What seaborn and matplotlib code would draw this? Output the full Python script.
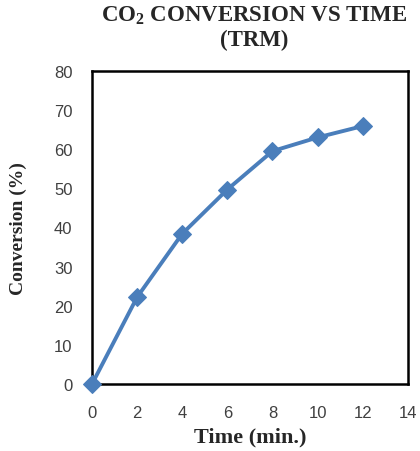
import pandas as pd
import numpy as np
import matplotlib
matplotlib.use('Agg')
import matplotlib.pyplot as plt
import seaborn as sn

time_min = [0, 2, 4, 6, 8, 10, 12]
conversion = [0, 22.2, 38.4, 49.7, 59.5, 63.0, 65.9]
x_ticks = [0, 2, 4, 6, 8, 10, 12, 14]
y_ticks = [0, 10, 20, 30, 40, 50, 60, 70, 80]

df = pd.DataFrame({'Time': time_min, 'Conversion': conversion})

sn.set_style('white')
plt.rcParams['font.family'] = ['Liberation Sans', 'DejaVu Sans']
plt.rcParams['mathtext.fontset'] = 'custom'
plt.rcParams['mathtext.bf'] = 'Liberation Serif:bold'
plt.rcParams['mathtext.rm'] = 'Liberation Serif:bold'

fig = plt.figure(figsize=(4.2, 4.52), dpi=100)
ax = fig.add_axes([0.219, 0.148, 0.752, 0.693])
sn.lineplot(data=df, x='Time', y='Conversion', ax=ax, color='#4A7EBB',
            linewidth=2.8, marker='D', markersize=9, markeredgecolor='#4A7EBB',
            clip_on=False, zorder=3)

ax.set_xlim(0, 14)
ax.set_ylim(0, 80)
ax.set_xticks(x_ticks)
ax.set_yticks(y_ticks)
ax.tick_params(length=0, labelsize=12, labelcolor='#404040')
ax.tick_params(axis='y', pad=14)
ax.tick_params(axis='x', pad=15)
for s in ax.spines.values():
    s.set_color('black')
    s.set_linewidth(1.8)

serif = ['Liberation Serif', 'DejaVu Serif']
ax.set_xlabel('Time (min.)', family=serif, fontweight='bold', fontsize=16, va='center')
ax.set_ylabel('Conversion (%)', family=serif, fontweight='bold', fontsize=14, va='center')
ax.xaxis.set_label_coords(0.5, -0.166)
ax.yaxis.set_label_coords(-0.234, 0.5)
fig.text(0.605, 0.966, 'CO$\\mathbf{_2}$ CONVERSION VS TIME', family=serif, fontweight='bold',
         fontsize=16.5, ha='center', va='center')
fig.text(0.605, 0.91, '(TRM)', family=serif, fontweight='bold',
         fontsize=16.5, ha='center', va='center')

fig.savefig('out.png', dpi=100)
